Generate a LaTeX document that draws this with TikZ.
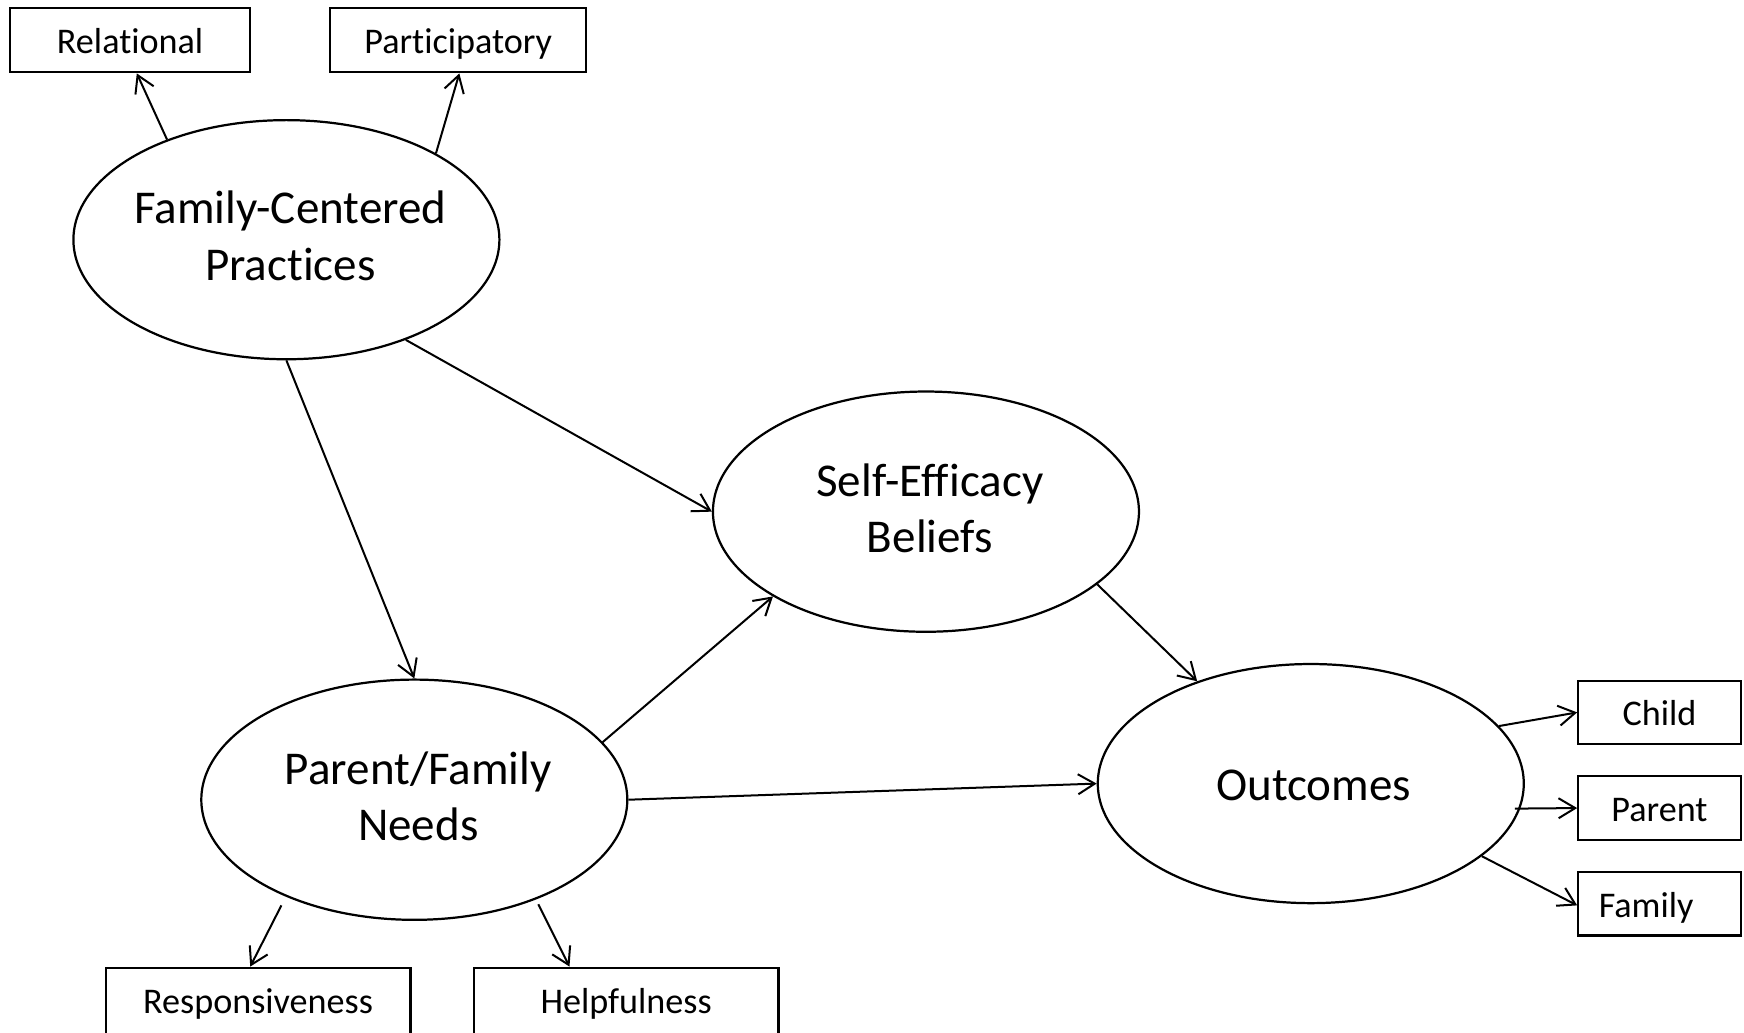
\documentclass[tikz,border=0pt]{standalone}
\usepackage{fontspec}
\setmainfont{Carlito}[Ligatures={NoCommon}]
\usetikzlibrary{shapes.geometric,arrows.meta}
\tikzset{
  latent/.style={ellipse, draw, line width=1pt, inner sep=0pt, minimum width=191.5pt, minimum height=108pt},
  bigtext/.style={align=center, inner sep=0pt, font=\fontsize{21.15pt}{25.5pt}\selectfont},
  obsbox/.style={rectangle, draw, line width=1pt, inner sep=0pt, minimum height=29pt, text height=12.2pt, text depth=0pt, font=\fontsize{16.25pt}{19.5pt}\selectfont},
  arr/.style={line width=0.9pt, -{Straight Barb[length=7.5pt,width=9pt,line width=0.9pt]}}
}
\begin{document}
\begin{tikzpicture}[x=0.5pt,y=-0.5pt]
\useasboundingbox (0,0) rectangle (1568,928);
% latent variables
\node[latent, minimum height=107.5pt] (fcp) at (257.5,215.5) {};
\node[latent] (seb) at (832.5,460) {};
\node[latent] (pfn) at (372.5,719) {};
\node[latent, minimum height=107.5pt] (out) at (1178.5,704.5) {};
\node[bigtext] (fcpt) at (261,212) {Family-Centered\\Practices};
\node[bigtext] (sebt) at (836,457) {Self-Efficacy\\Beliefs};
\node[bigtext] (pfnt) at (376,716) {Parent/Family\\Needs};
\node[bigtext] (outt) at (1181,706) {Outcomes};
% observed indicators
\node[obsbox, minimum width=108pt] (rel) at (117,36) {Relational};
\node[obsbox, minimum width=115pt] (par) at (412,36) {Participatory};
\node[obsbox, minimum width=73pt, minimum height=28.5pt] (child) at (1492,640.5) {Child};
\node[obsbox, minimum width=73pt, minimum height=28.5pt] (parent) at (1492,726.5) {Parent};
\node[obsbox, minimum width=73pt, minimum height=28.5pt] (fam) at (1492,812.5) {Family\rule{12pt}{0pt}};
\node[obsbox, minimum width=137pt, minimum height=31pt, text height=10.5pt] (resp) at (232,901) {Responsiveness};
\node[obsbox, minimum width=137pt, minimum height=31pt, text height=10.5pt] (help) at (563,901) {Helpfulness};
% free start points
\coordinate (parst) at (1362,727);
\coordinate (respst) at (253,814);
\coordinate (helpst) at (484,813);
% connectors
\draw[arr] (fcp.140) -- ([xshift=3pt]rel.south);
\draw[arr] (fcp.30) -- ([xshift=0.5pt]par.south);
\draw[arr] (fcp.south) -- (pfn.north);
\draw[arr] (fcp.-40) -- (seb.west);
\draw[arr] (pfn.17) -- (seb.209);
\draw[arr] (pfn.east) -- (out.west);
\draw[arr] (seb.-23) -- (out.138);
\draw[arr] (out.17) -- (child.west);
\draw[arr] (parst) -- (parent.west);
\draw[arr] (out.-23) -- ([yshift=-0.75pt]fam.west);
\draw[arr] (respst) -- ([xshift=-3.5pt]resp.north);
\draw[arr] (helpst) -- ([xshift=-25.5pt]help.north);
\end{tikzpicture}
\end{document}
